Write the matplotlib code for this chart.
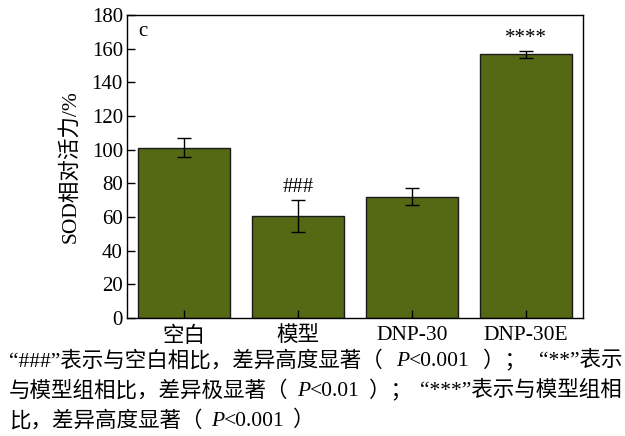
import matplotlib
matplotlib.use("Agg")
import matplotlib.pyplot as plt
import numpy as np

plt.rcParams['font.family'] = ['Liberation Serif', 'Noto Sans CJK SC']
plt.rcParams['axes.unicode_minus'] = False

categories = ['空白', '模型', 'DNP-30', 'DNP-30E']
values = [101.2, 60.8, 72.1, 156.6]
errors = [5.7, 9.5, 5.2, 2.0]
marks = ['', '###', '', '****']
y_ticks = [0, 20, 40, 60, 80, 100, 120, 140, 160, 180]
panel = 'c'
ylabel = 'SOD相对活力/%'
# caption segments: (text, italic); None marks a stretchable gap
caption = [
    [("“###”表示与空白相比，差异高度显著（", False), None, ("P", True),
     ("<0.001", False), None, ("）；", False), None, ("“**”表示", False)],
    [("与模型组相比，差异极显著（", False), None, ("P", True),
     ("<0.01", False), None, ("）；", False), None, ("“***”表示与模型组相", False)],
    [("比，差异高度显著（", False), None, ("P", True), ("<0.001", False), None,
     ("）", False)],
]

W, H = 625, 436
fig = plt.figure(figsize=(W / 100, H / 100), dpi=100)
ax = fig.add_axes([127 / W, 1 - 318 / H, (583 - 127) / W, (318 - 15) / H])

x = np.arange(len(categories))
ax.bar(x, values, width=0.8, color='#556814', edgecolor='#1a1a1a', linewidth=1.0,
       yerr=errors, error_kw=dict(ecolor='black', elinewidth=1.0, capsize=5, capthick=1.0))

for xi, v, e, m in zip(x, values, errors, marks):
    if m:
        ax.text(xi, v + e + 7.5, m, ha='center', va='center', fontsize=15)

ax.set_xlim(-0.5, 3.5)
ax.set_ylim(0, 180)
ax.set_yticks(y_ticks)
ax.set_xticks(x)
ax.set_xticklabels(categories)
ax.tick_params(axis='both', direction='in', length=6, width=1, pad=3)
ax.tick_params(axis='y', labelsize=15)
ax.tick_params(axis='x', labelsize=15.5, pad=6)
for s in ax.spines.values():
    s.set_linewidth(1.0)
    s.set_color('black')
ax.set_ylabel(ylabel, fontsize=15.5, labelpad=8)
ax.text(0.035, 0.945, panel, transform=ax.transAxes, ha='center', va='center',
        fontsize=15)

# caption lines, justified to the figure width, with an italic P
renderer = fig.canvas.get_renderer()
line_y = [361, 391, 421]
left, right = 9, 622
cap_size = 15.5
gap_used = None
for i, (pieces, ly) in enumerate(zip(caption, line_y)):
    texts = []
    for p in pieces:
        if p is None:
            texts.append(None)
            continue
        txt, ital = p
        t = fig.text(0, 1 - ly / H, txt, ha='left', va='center', fontsize=cap_size,
                     fontstyle='italic' if ital else 'normal')
        texts.append(t)
    widths = [t.get_window_extent(renderer=renderer).width if t is not None else 0
              for t in texts]
    n_gaps = sum(t is None for t in texts)
    if i < 2:
        gap = (right - left - sum(widths)) / n_gaps
        gap_used = gap if gap_used is None else min(gap_used, gap)
    else:
        gap = gap_used
    cur = left
    for t, w in zip(texts, widths):
        if t is None:
            cur += gap
        else:
            t.set_x(cur / W)
            cur += w

fig.savefig('out.png', dpi=100)
